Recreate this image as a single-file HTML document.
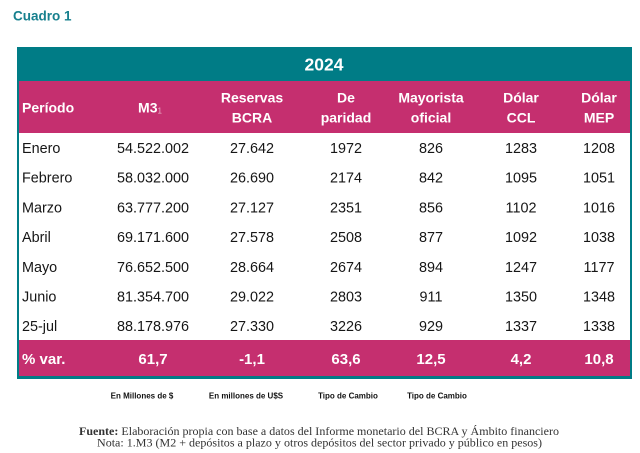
<!DOCTYPE html>
<html><head><meta charset="utf-8"><style>
html,body{margin:0;padding:0;background:#fff;width:640px;height:453px;overflow:hidden}
svg{display:block}
.h{font-family:"Liberation Sans",sans-serif;font-weight:bold;fill:#fff;font-size:14px}
.d{font-family:"Liberation Sans",sans-serif;fill:#161616;font-size:14.4px}
.v{font-family:"Liberation Sans",sans-serif;font-weight:bold;fill:#fff;font-size:15px}
.s{font-family:"Liberation Sans",sans-serif;font-weight:bold;fill:#111;font-size:8px}
.f{font-family:"Liberation Serif",serif;fill:#333;font-size:11.5px}
</style></head><body>
<svg width="640" height="453" viewBox="0 0 640 453" xmlns="http://www.w3.org/2000/svg">
<text x="13" y="20.5" font-family="Liberation Sans, sans-serif" font-weight="bold" font-size="13.5" fill="#17808e">Cuadro 1</text>
<rect x="17" y="47" width="615" height="332" fill="#007c86"/>
<rect x="19" y="81" width="611" height="52" fill="#c52f6f"/>
<rect x="19" y="133" width="611" height="207" fill="#ffffff"/>
<rect x="19" y="340" width="611" height="36" fill="#c52f6f"/>
<text x="324" y="70.5" text-anchor="middle" font-family="Liberation Sans, sans-serif" font-weight="bold" font-size="17.5" fill="#fff">2024</text>
<g class="h">
<text x="22" y="112.5">Período</text>
<text x="150" y="112.5" text-anchor="middle">M3<tspan font-size="8" font-weight="normal" fill="#e9b5cb" dy="1">1</tspan></text>
<text x="252" y="102.5" text-anchor="middle">Reservas</text>
<text x="252" y="122.3" text-anchor="middle">BCRA</text>
<text x="346" y="102.5" text-anchor="middle">De</text>
<text x="346" y="122.3" text-anchor="middle">paridad</text>
<text x="431" y="102.5" text-anchor="middle">Mayorista</text>
<text x="431" y="122.3" text-anchor="middle">oficial</text>
<text x="521" y="102.5" text-anchor="middle">Dólar</text>
<text x="521" y="122.3" text-anchor="middle">CCL</text>
<text x="599" y="102.5" text-anchor="middle">Dólar</text>
<text x="599" y="122.3" text-anchor="middle">MEP</text>
</g>
<g class="d">
<text x="22" y="153">Enero</text>
<text x="22" y="182.7">Febrero</text>
<text x="22" y="212.4">Marzo</text>
<text x="22" y="242.1">Abril</text>
<text x="22" y="271.8">Mayo</text>
<text x="22" y="301.5">Junio</text>
<text x="22" y="331.2">25-jul</text>
</g>
<g class="d" text-anchor="middle">
<text x="153" y="153">54.522.002</text><text x="252" y="153">27.642</text><text x="346" y="153">1972</text><text x="431" y="153">826</text><text x="521" y="153">1283</text><text x="599" y="153">1208</text>
<text x="153" y="182.7">58.032.000</text><text x="252" y="182.7">26.690</text><text x="346" y="182.7">2174</text><text x="431" y="182.7">842</text><text x="521" y="182.7">1095</text><text x="599" y="182.7">1051</text>
<text x="153" y="212.4">63.777.200</text><text x="252" y="212.4">27.127</text><text x="346" y="212.4">2351</text><text x="431" y="212.4">856</text><text x="521" y="212.4">1102</text><text x="599" y="212.4">1016</text>
<text x="153" y="242.1">69.171.600</text><text x="252" y="242.1">27.578</text><text x="346" y="242.1">2508</text><text x="431" y="242.1">877</text><text x="521" y="242.1">1092</text><text x="599" y="242.1">1038</text>
<text x="153" y="271.8">76.652.500</text><text x="252" y="271.8">28.664</text><text x="346" y="271.8">2674</text><text x="431" y="271.8">894</text><text x="521" y="271.8">1247</text><text x="599" y="271.8">1177</text>
<text x="153" y="301.5">81.354.700</text><text x="252" y="301.5">29.022</text><text x="346" y="301.5">2803</text><text x="431" y="301.5">911</text><text x="521" y="301.5">1350</text><text x="599" y="301.5">1348</text>
<text x="153" y="331.2">88.178.976</text><text x="252" y="331.2">27.330</text><text x="346" y="331.2">3226</text><text x="431" y="331.2">929</text><text x="521" y="331.2">1337</text><text x="599" y="331.2">1338</text>
</g>
<g class="v">
<text x="22" y="364">% var.</text>
<g text-anchor="middle">
<text x="153" y="364">61,7</text><text x="252" y="364">-1,1</text><text x="346" y="364">63,6</text><text x="431" y="364">12,5</text><text x="521" y="364">4,2</text><text x="599" y="364">10,8</text>
</g>
</g>
<g class="s" text-anchor="middle">
<text x="142" y="398.5">En Millones de $</text>
<text x="246" y="398.5">En millones de U$S</text>
<text x="348" y="398.5">Tipo de Cambio</text>
<text x="437" y="398.5">Tipo de Cambio</text>
</g>
<g class="f">
<text x="79" y="435" textLength="480" lengthAdjust="spacingAndGlyphs"><tspan font-weight="bold">Fuente:</tspan> Elaboración propia con base a datos del Informe monetario del BCRA y Ámbito financiero</text>
<text x="97" y="446.7" textLength="445" lengthAdjust="spacingAndGlyphs">Nota: 1.M3 (M2 + depósitos a plazo y otros depósitos del sector privado y público en pesos)</text>
</g>
</svg>
</body></html>
